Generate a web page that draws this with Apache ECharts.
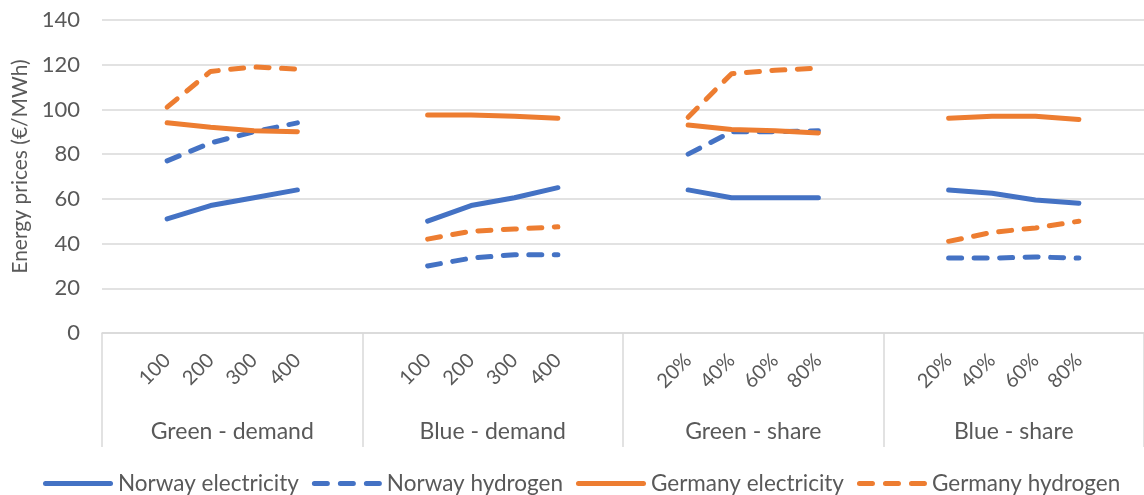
<!DOCTYPE html>
<html>
<head>
<meta charset="utf-8">
<script src="https://cdn.jsdelivr.net/npm/echarts@6/dist/echarts.min.js"></script>
<style>
  html, body { margin: 0; padding: 0; background: #fff; }
  #chart { width: 1144px; height: 495px; }
</style>
</head>
<body>
<div id="chart"></div>
<script>
// Scenario groups and the four steps inside each group
const groups = ['Green - demand', 'Blue - demand', 'Green - share', 'Blue - share'];
const steps = [
  ['100', '200', '300', '400'],
  ['100', '200', '300', '400'],
  ['20%', '40%', '60%', '80%'],
  ['20%', '40%', '60%', '80%']
];

// Energy prices (€/MWh), one row per group
const norwayElectricity = [
  [51, 57, 60.5, 64],
  [50, 57, 60.5, 65],
  [64, 60.5, 60.5, 60.5],
  [64, 62.5, 59.5, 58]
];
const norwayHydrogen = [
  [77, 85, 90, 94],
  [30, 33.5, 35, 35],
  [80, 90, 90, 90.5],
  [33.5, 33.5, 34, 33.5]
];
const germanyElectricity = [
  [94, 92, 90.5, 90],
  [97.5, 97.5, 97, 96],
  [93, 91, 90.5, 89.5],
  [96, 97, 97, 95.5]
];
const germanyHydrogen = [
  [101, 117, 119, 118],
  [42, 45.5, 46.5, 47.5],
  [96.5, 116, 117.5, 118.5],
  [41, 45, 47, 50]
];

const yTicks = { min: 0, max: 140, interval: 20 };

// Each group gets an empty slot on both sides so the lines break between groups
const categories = [];
steps.forEach(function (g) { categories.push(''); g.forEach(function (s) { categories.push(s); }); categories.push(''); });

function flatten(rows) {
  const out = [];
  rows.forEach(function (r) { out.push(null); r.forEach(function (v) { out.push(v); }); out.push(null); });
  return out;
}

const BLUE = '#4472C4';
const ORANGE = '#ED7D31';
const GRID = '#D9D9D9';
const TEXT = '#595959';
const FONT = 'Lato, "Open Sans", sans-serif';

// Legend keys: a single rounded bar, or three rounded dashes
const SOLID_ICON = 'path://M2.5,0 H67.5 A2.5,2.5 0 0 1 67.5,5 H2.5 A2.5,2.5 0 0 1 2.5,0 Z';
const DASH_ICON = 'path://M2.5,0 H15.5 A2.5,2.5 0 0 1 15.5,5 H2.5 A2.5,2.5 0 0 1 2.5,0 Z' +
  ' M28.5,0 H41.5 A2.5,2.5 0 0 1 41.5,5 H28.5 A2.5,2.5 0 0 1 28.5,0 Z' +
  ' M54.5,0 H67.5 A2.5,2.5 0 0 1 67.5,5 H54.5 A2.5,2.5 0 0 1 54.5,0 Z';

function lineSeries(name, rows, color, dashed) {
  return {
    name: name,
    type: 'line',
    data: flatten(rows),
    showSymbol: false,
    symbol: 'none',
    connectNulls: false,
    color: color,
    itemStyle: { color: color },
    lineStyle: {
      color: color,
      width: 5,
      type: dashed ? [13, 12.5] : 'solid',
      cap: 'round',
      join: 'round'
    },
    emphasis: { disabled: true }
  };
}

const chart = echarts.init(document.getElementById('chart'), null, { renderer: 'canvas' });

chart.setOption({
  animation: false,
  backgroundColor: '#fff',
  textStyle: { fontFamily: FONT, color: TEXT },
  grid: { left: 102, right: -6, top: 20, bottom: 162, containLabel: false },
  legend: {
    top: 472,
    left: 43,
    padding: 0,
    itemWidth: 70,
    itemHeight: 5,
    itemGap: 13,
    itemStyle: { borderWidth: 0 },
    textStyle: { fontFamily: FONT, fontSize: 22.5, color: TEXT },
    data: [
      { name: 'Norway electricity', icon: SOLID_ICON },
      { name: 'Norway hydrogen', icon: DASH_ICON },
      { name: 'Germany electricity', icon: SOLID_ICON },
      { name: 'Germany hydrogen', icon: DASH_ICON }
    ]
  },
  xAxis: [
    {
      type: 'category',
      data: categories,
      position: 'bottom',
      boundaryGap: true,
      axisLine: { show: true, onZero: false, lineStyle: { color: GRID, width: 1.5 } },
      axisTick: { show: false },
      axisLabel: {
        interval: 0,
        rotate: 45,
        margin: 24,
        fontFamily: FONT,
        fontSize: 20,
        color: TEXT
      },
      splitLine: { show: false }
    },
    {
      type: 'category',
      data: groups,
      position: 'bottom',
      boundaryGap: true,
      axisLine: { show: false, onZero: false },
      axisTick: { show: true, length: 114, lineStyle: { color: GRID, width: 1.5 } },
      axisLabel: {
        interval: 0,
        margin: 87,
        fontFamily: FONT,
        fontSize: 23,
        color: TEXT
      },
      splitLine: { show: false }
    }
  ],
  yAxis: {
    type: 'value',
    min: yTicks.min,
    max: yTicks.max,
    interval: yTicks.interval,
    name: 'Energy prices (€/MWh)',
    nameLocation: 'middle',
    nameGap: 71,
    nameTextStyle: { fontFamily: FONT, fontSize: 21, color: TEXT, padding: [0, 0, 0, 20] },
    axisLine: { show: false },
    axisTick: { show: false },
    axisLabel: { margin: 22, fontFamily: FONT, fontSize: 22, color: TEXT },
    splitLine: { lineStyle: { color: GRID, width: 1.5 } }
  },
  series: [
    lineSeries('Norway electricity', norwayElectricity, BLUE, false),
    lineSeries('Norway hydrogen', norwayHydrogen, BLUE, true),
    lineSeries('Germany electricity', germanyElectricity, ORANGE, false),
    lineSeries('Germany hydrogen', germanyHydrogen, ORANGE, true)
  ]
});
</script>
</body>
</html>
